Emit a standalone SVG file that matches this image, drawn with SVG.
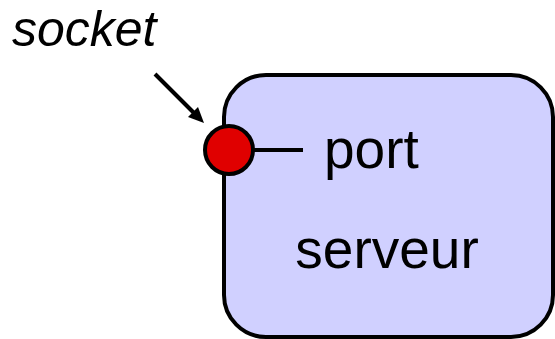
<svg xmlns="http://www.w3.org/2000/svg" width="555" height="339" viewBox="0 0 555 339">
<style>
.lbl{font-family:"Liberation Sans",Arial,sans-serif;fill:#000}
.ln{stroke:#000;stroke-width:4;fill:none}
</style>
<g id="serveur">
<rect x="224" y="75" width="329" height="262" rx="42" ry="42" fill="#d0d0ff" stroke="#000" stroke-width="4"/>
<text class="lbl" x="387" y="268" font-size="55" text-anchor="middle">serveur</text>
</g>
<g id="port">
<text class="lbl" x="324" y="168" font-size="55">port</text>
</g>
<g id="socket">
<circle cx="229" cy="150" r="24" fill="#e00000" stroke="#000" stroke-width="4"/>
<text class="lbl" x="12" y="46" font-size="50" font-style="italic">socket</text>
</g>
<g id="connectors">
<line class="ln" x1="254" y1="150" x2="303" y2="150"/>
<line x1="155" y1="74" x2="198" y2="117" stroke="#000" stroke-width="4"/>
<path d="M204,123 L188,117 L198,107 z" fill="#000"/>
</g>
</svg>
